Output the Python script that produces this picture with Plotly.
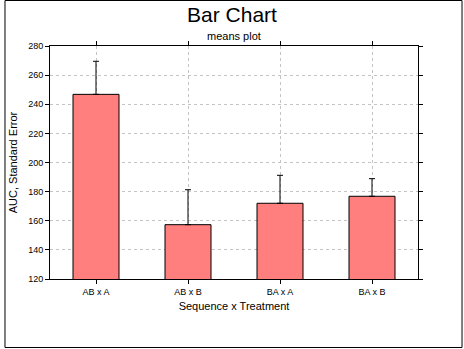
import plotly.graph_objects as go

categories = ["AB x A", "AB x B", "BA x A", "BA x B"]
means = [246.8, 157.3, 172.0, 176.8]
errors = [22.7, 24.0, 19.2, 12.1]
y_ticks = [120, 140, 160, 180, 200, 220, 240, 260, 280]

W, H = 464, 349
L, R, T, B = 46, 46, 46, 70
pw, ph = W - L - R, H - T - B

fig = go.Figure()
fig.add_trace(go.Bar(
    x=categories, y=means, width=0.5,
    marker=dict(color="#FF7F7F", line=dict(color="black", width=1)),
    error_y=dict(type="data", array=errors, visible=True, color="black", thickness=1, width=3,
                 symmetric=False, arrayminus=[0] * 4),
))

axis_common = dict(showline=True, linecolor="black", linewidth=1, mirror="allticks",
                   ticks="outside", tickcolor="black", ticklen=4,
                   showgrid=True, gridcolor="#c4c4c4", griddash="3px,3px", gridwidth=1,
                   zeroline=False, tickfont=dict(family="Liberation Sans, Arial", size=9, color="black"))

fig.update_layout(
    width=W, height=H,
    margin=dict(l=L, r=R, t=T, b=B),
    paper_bgcolor="white", plot_bgcolor="white",
    showlegend=False,
    font=dict(family="Liberation Sans, Arial", color="black"),
    title=dict(text="Bar Chart", x=0.5, xanchor="center", y=1 - 15/H, yanchor="middle",
               font=dict(size=21, color="black")),
    annotations=[dict(text="means plot", xref="paper", yref="paper", x=0.5, y=1 + 10/ph,
                      xanchor="center", yanchor="middle", showarrow=False,
                      font=dict(size=11, color="black"))],
)
fig.update_xaxes(**axis_common, range=[-0.5, 3.5],
                 title=dict(text="Sequence x Treatment", font=dict(size=11), standoff=6))
fig.update_yaxes(**axis_common, range=[120, 280], tickvals=y_ticks,
                 title=dict(text="AUC, Standard Error", font=dict(size=11), standoff=8))

fig.add_shape(type="rect", xref="paper", yref="paper",
              x0=(0.5 - L) / pw, x1=(W - 1.5 - L) / pw,
              y0=(ph + T - (H - 1.5)) / ph, y1=(ph + T - 0.5) / ph,
              line=dict(color="black", width=1), fillcolor="rgba(0,0,0,0)", layer="above")

fig.write_html("out.html")
